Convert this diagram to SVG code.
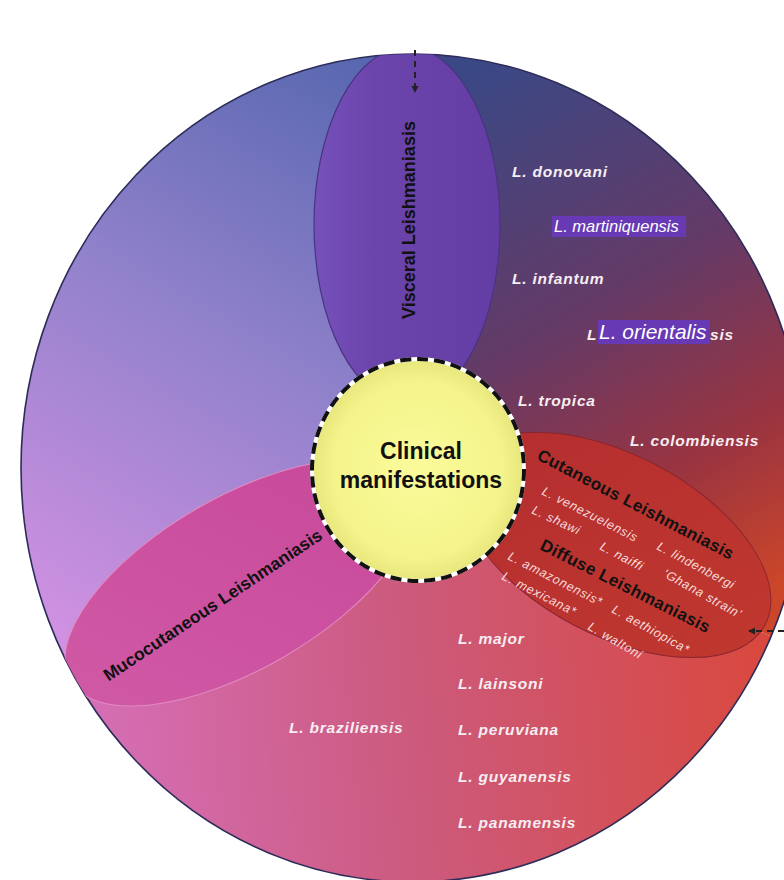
<svg xmlns="http://www.w3.org/2000/svg" width="784" height="880" viewBox="0 0 784 880">
<defs>
<style>
.sp{font-family:"Liberation Sans",Arial,sans-serif;font-style:italic;font-weight:bold;font-size:15.5px;fill:#f6eef2;letter-spacing:0.8px}
.hl{font-family:"Liberation Sans",Arial,sans-serif;font-style:italic;fill:#ffffff}
.ttl{font-family:"Liberation Sans",Arial,sans-serif;font-weight:bold;fill:#111}
.sm{font-family:"Liberation Sans",Arial,sans-serif;font-style:italic;font-size:12.5px;fill:#f6dada;letter-spacing:0.8px}
.conn{stroke:#222;stroke-width:2;stroke-dasharray:6 5;fill:none}
</style>
<clipPath id="big"><ellipse cx="413" cy="468" rx="392" ry="414"/></clipPath>
<linearGradient id="gA" gradientUnits="userSpaceOnUse" x1="400" y1="60" x2="60" y2="640">
<stop offset="0" stop-color="#5466ae"/><stop offset="0.5" stop-color="#9382cc"/><stop offset="1" stop-color="#d191e2"/>
</linearGradient>
<linearGradient id="gB" gradientUnits="userSpaceOnUse" x1="470" y1="70" x2="770" y2="590">
<stop offset="0" stop-color="#3a4886"/><stop offset="0.45" stop-color="#653a66"/><stop offset="0.75" stop-color="#9a3440"/><stop offset="1" stop-color="#cc462a"/>
</linearGradient>
<linearGradient id="gC" gradientUnits="userSpaceOnUse" x1="60" y1="760" x2="770" y2="700">
<stop offset="0" stop-color="#d670bc"/><stop offset="0.5" stop-color="#cc5a7c"/><stop offset="1" stop-color="#d9483e"/>
</linearGradient>
<linearGradient id="gV" gradientUnits="userSpaceOnUse" x1="320" y1="0" x2="500" y2="0">
<stop offset="0" stop-color="#7550b8"/><stop offset="0.3" stop-color="#6b44ac"/><stop offset="1" stop-color="#633ca4"/>
</linearGradient>
<linearGradient id="gM" gradientUnits="userSpaceOnUse" x1="80" y1="700" x2="400" y2="480">
<stop offset="0" stop-color="#d05aa6"/><stop offset="1" stop-color="#c8489a"/>
</linearGradient>
<linearGradient id="gCu" gradientUnits="userSpaceOnUse" x1="470" y1="460" x2="770" y2="640">
<stop offset="0" stop-color="#b42e30"/><stop offset="1" stop-color="#c0382e"/>
</linearGradient>
<radialGradient id="gY" cx="0.5" cy="0.5" r="0.5">
<stop offset="0" stop-color="#fbfb9c"/><stop offset="0.8" stop-color="#f4f48a"/><stop offset="1" stop-color="#e6e67c"/>
</radialGradient>
<marker id="arr" markerWidth="8" markerHeight="8" refX="6" refY="4" orient="auto" markerUnits="userSpaceOnUse">
<path d="M0,0.5 L7,4 L0,7.5 z" fill="#222"/>
</marker>
</defs>

<g id="background">
<g clip-path="url(#big)">
<polygon points="418,468 418,0 0,0 0,709" fill="url(#gA)"/>
<polygon points="418,468 418,0 820,0 820,660" fill="url(#gB)"/>
<polygon points="418,468 0,709 0,900 820,900 820,660" fill="url(#gC)"/>
</g>
<ellipse cx="413" cy="468" rx="392" ry="414" fill="none" stroke="#2c2c58" stroke-width="1.6"/>
</g>

<g id="visceral">
<g clip-path="url(#big)">
<ellipse cx="407" cy="225" rx="93" ry="178" fill="url(#gV)" stroke="#4a3480" stroke-width="1.2"/>
</g>
<text class="ttl" font-size="18" transform="translate(415,220) rotate(-90)" text-anchor="middle">Visceral Leishmaniasis</text>
</g>

<g id="mucocutaneous">
<g clip-path="url(#big)">
<ellipse cx="240" cy="583" rx="196" ry="86" transform="rotate(-30 240 583)" fill="url(#gM)" stroke="#e08ac0" stroke-width="1"/>
</g>
<text class="ttl" font-size="17.5" transform="translate(216,610) rotate(-33.7)" text-anchor="middle">Mucocutaneous Leishmaniasis</text>
</g>

<g id="cutaneous">
<g clip-path="url(#big)">
<ellipse cx="615" cy="545" rx="170" ry="90" transform="rotate(28 615 545)" fill="url(#gCu)" stroke="#8a2630" stroke-width="1"/>
</g>
<text class="ttl" font-size="17" transform="translate(536,459) rotate(27.5)" letter-spacing="0.4">Cutaneous Leishmaniasis</text>
<text class="sm" transform="translate(541,494) rotate(27)">L. venezuelensis</text>
<text class="sm" transform="translate(656,549) rotate(28)">L. lindenbergi</text>
<text class="sm" transform="translate(531,513) rotate(25)">L. shawi</text>
<text class="sm" transform="translate(599,549) rotate(28)">L. naiffi</text>
<text class="sm" transform="translate(662,576) rotate(29)">‘Ghana strain’</text>
<text class="ttl" font-size="17" transform="translate(539,549) rotate(26.7)" letter-spacing="0.4">Diffuse Leishmaniasis</text>
<text class="sm" transform="translate(507,559) rotate(27)">L. amazonensis*</text>
<text class="sm" transform="translate(611,612) rotate(29)">L. aethiopica*</text>
<text class="sm" transform="translate(501,579) rotate(27)">L. mexicana*</text>
<text class="sm" transform="translate(587,629) rotate(30)">L. waltoni</text>
</g>

<g id="center">
<ellipse cx="418" cy="470" rx="106" ry="111" fill="url(#gY)"/>
<ellipse cx="418" cy="470" rx="106" ry="111" fill="none" stroke="#ffffff" stroke-width="4"/>
<ellipse cx="418" cy="470" rx="106" ry="111" fill="none" stroke="#111" stroke-width="4" stroke-dasharray="11 6"/>
<text class="ttl" font-size="23" x="421" y="459" text-anchor="middle">Clinical</text>
<text class="ttl" font-size="23" x="421" y="488" text-anchor="middle">manifestations</text>
</g>

<g id="species">
<text class="sp" x="512" y="177">L. donovani</text>
<rect x="552" y="216" width="134" height="21" fill="#6739b4"/>
<text class="hl" font-size="16.5" x="554" y="232">L. martiniquensis</text>
<text class="sp" x="512" y="284">L. infantum</text>
<text class="sp" x="587" y="340">L</text>
<text class="sp" x="710" y="340">sis</text>
<rect x="598" y="320" width="112" height="24" fill="#6739b4"/>
<text class="hl" font-size="21" x="599" y="339">L. orientalis</text>
<text class="sp" x="518" y="406">L. tropica</text>
<text class="sp" x="630" y="446">L. colombiensis</text>
<text class="sp" x="458" y="644">L. major</text>
<text class="sp" x="458" y="689">L. lainsoni</text>
<text class="sp" x="289" y="733">L. braziliensis</text>
<text class="sp" x="458" y="735">L. peruviana</text>
<text class="sp" x="458" y="782">L. guyanensis</text>
<text class="sp" x="458" y="828">L. panamensis</text>
</g>

<g id="connectors">
<line class="conn" x1="415" y1="50" x2="415" y2="92" marker-end="url(#arr)"/>
<line class="conn" x1="784" y1="631" x2="749" y2="631" marker-end="url(#arr)"/>
</g>
</svg>
